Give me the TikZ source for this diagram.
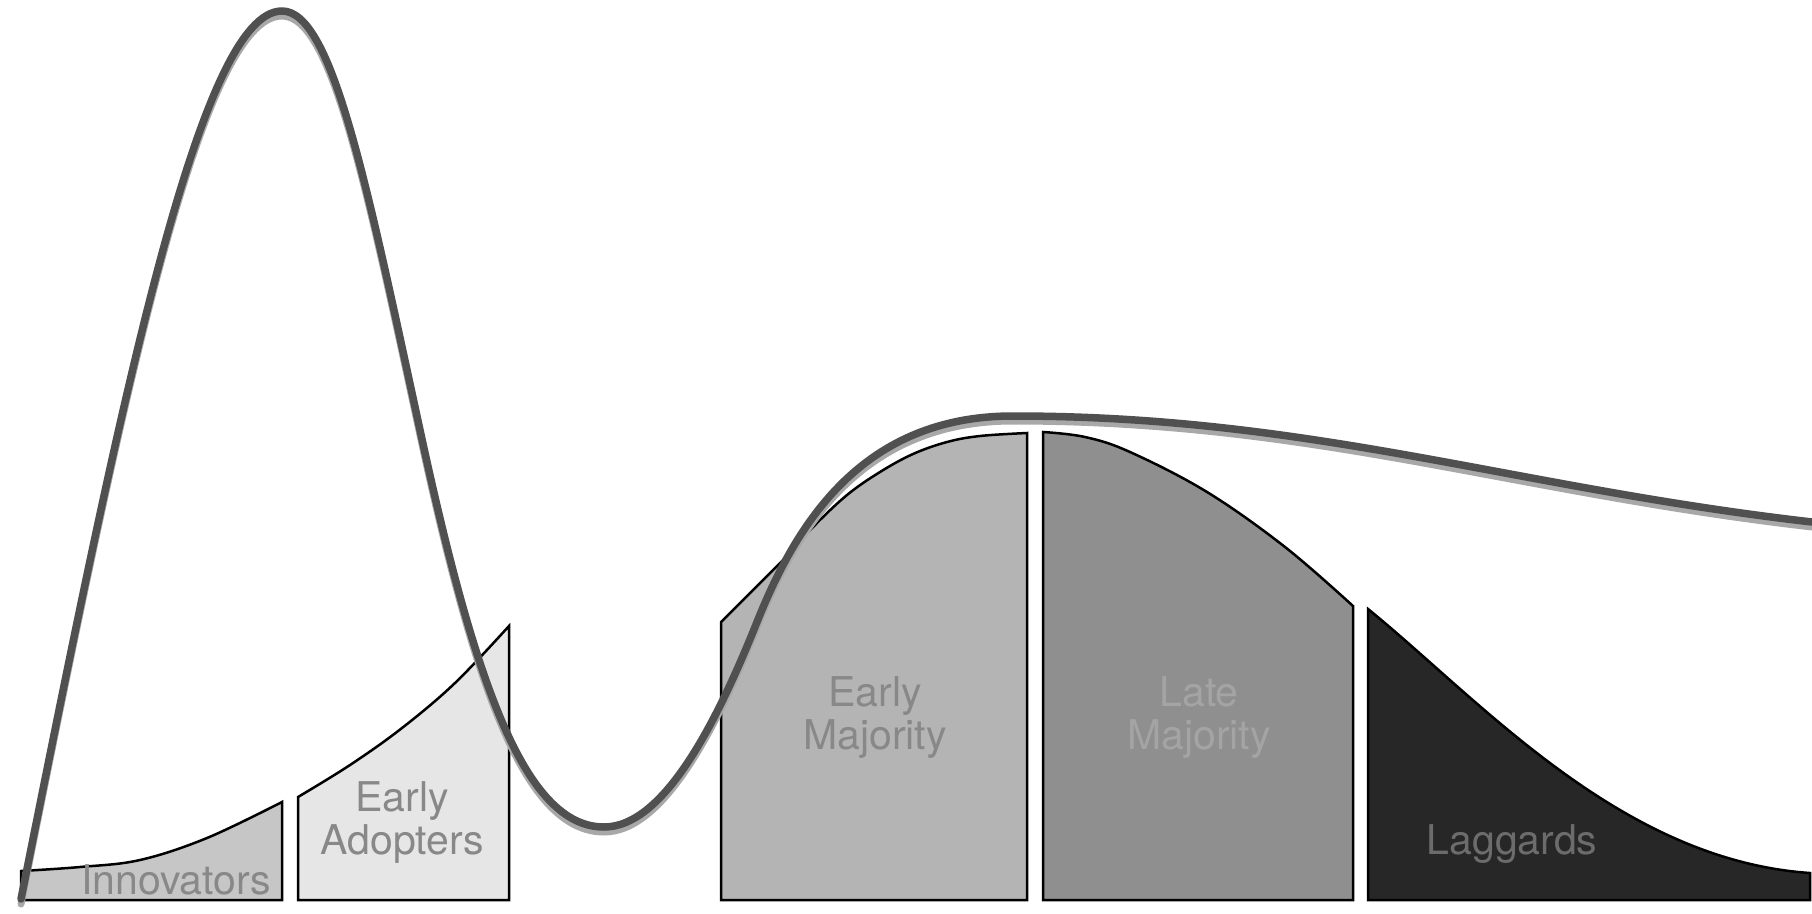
\documentclass[tikz,border=0pt]{standalone}
\usepackage{fontspec}
\setmainfont{TeX Gyre Heros}
\definecolor{curvegray}{HTML}{505050}
\definecolor{shadowgray}{HTML}{A8A8A8}
\definecolor{innovfill}{HTML}{C6C6C6}
\definecolor{eafill}{HTML}{E6E6E6}
\definecolor{emfill}{HTML}{B4B4B4}
\definecolor{lmfill}{HTML}{8F8F8F}
\definecolor{lagfill}{HTML}{272727}
\definecolor{txtgray}{HTML}{888888}
\definecolor{lmtxt}{HTML}{A4A4A4}
\definecolor{lagtxt}{HTML}{6C6C6C}
\begin{document}
\begin{tikzpicture}[x=1pt,y=-1pt,
  seg/.style={draw=black, line width=2.5pt, line join=miter},
  lbl/.style={font=\fontsize{41}{43}\selectfont, align=center, inner sep=0pt},
  bigcurve/.style={line width=7.5pt, draw=curvegray, line cap=round, line join=round},
  curveshadow/.style={line width=7pt, draw=shadowgray, line cap=round, line join=round}]
\useasboundingbox (0,0) rectangle (1812,913);
\fill[white] (0,0) rectangle (1812,913);

% segments
\path[seg, fill=innovfill] (21,900) -- (21,871)
  -- plot[smooth, tension=0.6] coordinates {(21,871) (80,867) (140,860) (207,838) (282,802)}
  -- (282,900) -- cycle;
\path[seg, fill=eafill] (298,900) -- (298,797)
  -- plot[smooth, tension=0.6] coordinates {(298,797) (350,765) (402,728) (455,683) (509,626)}
  -- (509,900) -- cycle;
\path[seg, fill=emfill] (721,900) -- (721,622) -- (788,555)
  -- plot[smooth, tension=0.6] coordinates {(788,555) (813,527) (847,495) (880,472) (913,454) (947,442) (980,436) (1027,433)}
  -- (1027,900) -- cycle;
\path[seg, fill=lmfill] (1043,900) -- (1043,432)
  -- plot[smooth, tension=0.6] coordinates {(1043,432) (1085,437) (1130,452) (1207,492) (1285,547) (1353,606)}
  -- (1353,900) -- cycle;
\path[seg, fill=lagfill] (1368,900) -- (1368,609)
  .. controls (1480,700) and (1620,860) .. (1810,873)
  -- (1810,900) -- cycle;

% labels
\node[lbl, text=txtgray] (innov) at (176,880) {Innovators};
\node[lbl, text=txtgray] (early) at (402,823) {Early\\Adopters};
\node[lbl, text=txtgray] (emaj) at (875,718) {Early\\Majority};
\node[lbl, text=lmtxt] (lmaj) at (1199,718) {Late\\Majority};
\node[lbl, text=lagtxt] (lag) at (1512,844) {Laggards};

% adoption curve with shadow
\def\adoptcurve{(21,899) .. controls (121,399) and (200,11) .. (282,11)
  .. controls (332,11) and (365.8,180) .. (420,430)
  .. controls (474,680) and (524,827) .. (604,827)
  .. controls (664,827) and (717,722) .. (757,622)
  .. controls (797,522) and (863,416) .. (1013,416)
  .. controls (1313,416) and (1512,487.5) .. (1812,522)}
\draw[curveshadow, shift={(0,5)}] \adoptcurve;
\draw[bigcurve] \adoptcurve;
\end{tikzpicture}
\end{document}
